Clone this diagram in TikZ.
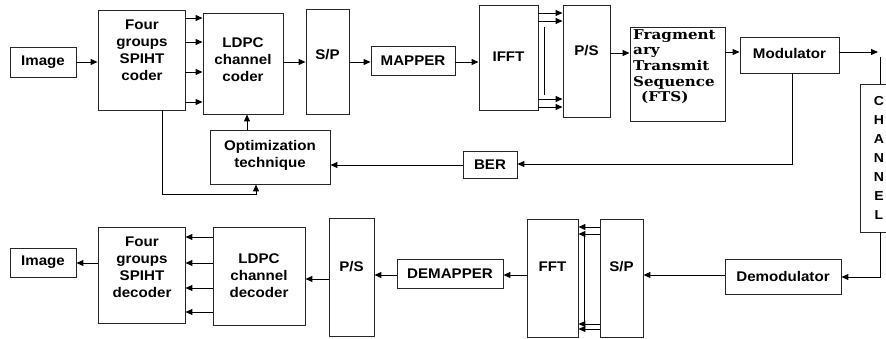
\documentclass[tikz,border=0pt]{standalone}
\usepackage{fontspec}
\setmainfont[FakeStretch=1.08]{Liberation Sans}
\newfontfamily\ftsfont[FakeStretch=1.12]{DejaVu Serif}
\usetikzlibrary{arrows.meta}
\tikzset{
  box/.style={draw=black!85, line width=0.9pt, inner sep=0pt, fill=white},
  lbl/.style={font=\fontsize{14}{17}\selectfont\bfseries, align=center, inner sep=0pt},
  conn/.style={line width=1pt, -{Triangle[length=7pt,width=6pt]}},
  wire/.style={line width=1pt}
}
\begin{document}
\begin{tikzpicture}[x=1pt,y=-1pt]
\useasboundingbox[fill=white] (0,0) rectangle (886,338);
% ---- upper row boxes
\node[box, minimum width=66pt, minimum height=30pt] (img1) at (43,62) {};
\node[lbl] (img1t) at (43,62) {Image};
\node[box, minimum width=87pt, minimum height=100pt] (spc) at (141.5,60) {};
\node[lbl] (spct) at (142,50) {Four\\groups\\SPIHT\\coder};
\node[box, minimum width=80pt, minimum height=101pt] (ldpc) at (243,63.5) {};
\node[lbl] (ldpct) at (243,60) {LDPC\\channel\\coder};
\node[box, minimum width=120pt, minimum height=54pt] (opt) at (270,157) {};
\node[lbl] (optt) at (270,155) {Optimization\\technique};
\node[box, minimum width=43pt, minimum height=105pt] (sp1) at (327.5,61.5) {};
\node[lbl] (sp1t) at (327.5,55) {S/P};
\node[box, minimum width=84pt, minimum height=29pt] (mapper) at (413,60.5) {};
\node[lbl] (mappert) at (413,60.5) {MAPPER};
\node[box, minimum width=59pt, minimum height=105pt] (ifft) at (508.5,57.5) {};
\node[lbl] (ifftt) at (508.5,57) {IFFT};
\node[box, minimum width=47pt, minimum height=112pt] (ps1) at (586.5,61) {};
\node[lbl] (ps1t) at (586.5,51) {P/S};
\node[box, minimum width=95pt, minimum height=94pt] (fts) at (677.5,74) {};
\node[font=\ftsfont\fontsize{13.5}{15.7}\selectfont\bfseries, align=left, inner sep=0pt, anchor=north west] (ftst) at (633,29)
  {Fragment\\ary\\Transmit\\Sequence\\\hspace*{8pt}(FTS)};
\node[box, minimum width=99pt, minimum height=36pt] (mod) at (789.5,55) {};
\node[lbl] (modt) at (789.5,53) {Modulator};
\node[box, minimum width=40pt, minimum height=148pt] (chan) at (880,158) {};
\node[lbl, font=\fontsize{13}{19}\selectfont\bfseries] (chant) at (879,158) {C\\H\\A\\N\\N\\E\\L};
\node[box, minimum width=54pt, minimum height=27pt] (ber) at (490,164.5) {};
\node[lbl] (bert) at (490,164.5) {BER};
% ---- lower row boxes
\node[box, minimum width=66pt, minimum height=29pt] (img2) at (43,262.5) {};
\node[lbl] (img2t) at (43,262.5) {Image};
\node[box, minimum width=87pt, minimum height=96pt] (spd) at (141.5,275) {};
\node[lbl] (spdt) at (142,267) {Four\\groups\\SPIHT\\decoder};
\node[box, minimum width=92pt, minimum height=98pt] (ldpcd) at (259,276) {};
\node[lbl] (ldpcdt) at (259,276) {LDPC\\channel\\decoder};
\node[box, minimum width=45pt, minimum height=118pt] (ps2) at (351.5,277) {};
\node[lbl] (ps2t) at (351.5,267) {P/S};
\node[box, minimum width=106pt, minimum height=29pt] (demap) at (450,273.5) {};
\node[lbl] (demapt) at (450,273.5) {DEMAPPER};
\node[box, minimum width=51pt, minimum height=118pt] (fft) at (552.5,278) {};
\node[lbl] (fftt) at (552.5,267) {FFT};
\node[box, minimum width=43pt, minimum height=118pt] (sp2) at (621.5,278) {};
\node[lbl] (sp2t) at (621.5,267) {S/P};
\node[box, minimum width=116pt, minimum height=35pt] (demod) at (783,276.5) {};
\node[lbl] (demodt) at (783,276.5) {Demodulator};
% ---- upper connectors
\draw[conn] (img1.east) -- (spc.west |- img1.east);
\foreach \yy in {18,42,72,102} \draw[conn] (spc.east |- 0,\yy) -- (ldpc.west |- 0,\yy);
\draw[conn] (ldpc.east |- 0,62) -- (sp1.west |- 0,62);
\draw[conn] (sp1.east |- 0,62) -- (mapper.west |- 0,62);
\draw[conn] (mapper.east |- 0,62) -- (ifft.west |- 0,62);
\foreach \yy in {13,21,99,107} \draw[conn] (ifft.east |- 0,\yy) -- (ps1.west |- 0,\yy);
\coordinate (v1a) at (544,27); \coordinate (v1b) at (544,95);
\draw[wire] (v1a) -- (v1b);
\draw[conn] (ps1.east |- 0,53) -- (fts.west |- 0,53);
\draw[conn] (fts.east |- 0,52) -- (mod.west |- 0,52);
\coordinate (chin) at (878,52);
\draw[conn] (mod.east |- 0,52) -- (chin);
\coordinate (chtop) at (880,57);
\draw[wire] (chtop) -- (chtop |- chan.north);
\draw[conn] (chan.south -| 880,0) -- (880,277) -- (demod.east |- 0,277);
\draw[conn] (mod.south -| 792,0) -- (792,164) -- (ber.east |- 0,164);
\draw[conn] (ber.west |- 0,165) -- (opt.east |- 0,165);
\draw[conn] (opt.north -| 247,0) -- (ldpc.south -| 247,0);
\draw[conn] (spc.south -| 162,0) -- (162,194) -- (256,194) -- (opt.south -| 256,0);
% ---- lower connectors
\draw[conn] (demod.west |- 0,275) -- (sp2.east |- 0,275);
\foreach \yy in {227,234,324,329} \draw[conn] (sp2.west |- 0,\yy) -- (fft.east |- 0,\yy);
\coordinate (v2a) at (584,234); \coordinate (v2b) at (584,324);
\draw[wire] (v2a) -- (v2b);
\draw[conn] (fft.west |- 0,275) -- (demap.east |- 0,275);
\draw[conn] (demap.west |- 0,275) -- (ps2.east |- 0,275);
\draw[conn] (ps2.west |- 0,279) -- (ldpcd.east |- 0,279);
\foreach \yy in {237,263,288,312} \draw[conn] (ldpcd.west |- 0,\yy) -- (spd.east |- 0,\yy);
\draw[conn] (spd.west |- 0,263) -- (img2.east |- 0,263);
\end{tikzpicture}
\end{document}
